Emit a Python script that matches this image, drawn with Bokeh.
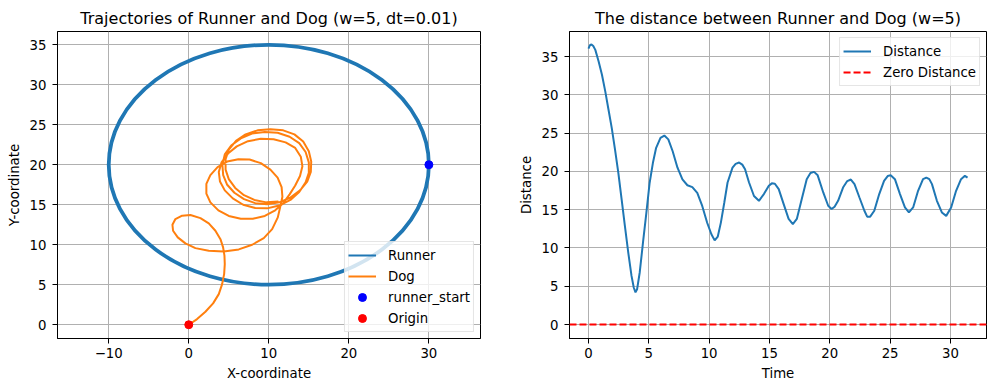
from bokeh.plotting import figure
from bokeh.layouts import row
from bokeh.models import Range1d, FixedTicker, Span, Legend, LegendItem, ColumnDataSource
from bokeh.embed import file_html
from bokeh.resources import INLINE

# ---- data ----
runner_center_x = [10]
runner_center_y = [20]
runner_width = [40]
runner_height = [30]
runner_start_x = [30]
runner_start_y = [20]
origin_x = [0]
origin_y = [0]

dog_x = [0, 1.04, 2.08, 3.04, 3.75, 4.17, 4.42, 4.5, 4.46, 4.29, 3.96, 3.33, 2.5, 1.46, 0.21,
         -0.83, -1.67, -2.04, -1.96, -1.375, -0.42, 0.83, 2.5, 4.375, 6.25, 7.92, 9.375, 10.42,
         11.125, 11.46,
         11.7, 11.6, 11.1, 10.2, 9.0, 7.6, 6.2, 4.8, 3.6, 2.7, 2.2, 2.2, 2.7, 3.7, 5.0, 6.5, 8.0,
         9.5, 10.8, 11.8, 12.6,
         13.3, 13.9, 14.2, 14.0, 13.3, 12.1, 10.6, 9.0, 7.4, 6.0, 4.9, 4.1, 3.75, 3.9, 4.5, 5.5,
         6.8, 8.3, 9.8, 11.3, 12.7, 13.8,
         14.6, 15.0, 15.0, 14.6, 13.8, 12.6, 11.1, 9.5, 7.9, 6.5, 5.3, 4.5, 4.2, 4.3, 4.8, 5.7,
         6.9, 8.3, 9.8, 11.3, 12.7, 13.9,
         14.8, 15.25, 15.3, 15.0, 14.3, 13.2, 11.8, 10.2, 8.6, 7.1, 5.9, 5.0, 4.6, 4.6, 5.0, 5.8,
         6.9, 8.2, 9.7, 11.2]
dog_y = [0, 0.71, 1.63, 2.67, 3.83, 5.08, 6.33, 7.58, 8.63, 9.67, 10.7, 11.75, 12.67, 13.33, 13.71,
         13.63, 13.21, 12.5, 11.75, 10.92, 10.17, 9.58, 9.25, 9.17, 9.42, 10.0, 10.83, 11.96,
         13.42, 14.875,
         16.0, 17.2, 18.4, 19.4, 20.2, 20.65, 20.7, 20.4, 19.7, 18.7, 17.6, 16.4, 15.3, 14.3, 13.6,
         13.25, 13.25, 13.6, 14.3, 15.2, 16.3,
         17.4, 18.6, 19.8, 21.0, 22.1, 22.8, 23.2, 23.25, 22.95, 22.3, 21.4, 20.3, 19.1, 17.9, 16.8,
         15.8, 15.0, 14.6, 14.55, 14.9, 15.6, 16.6,
         17.8, 19.0, 20.3, 21.6, 22.7, 23.5, 24.0, 24.1, 23.9, 23.3, 22.4, 21.3, 20.0, 18.7, 17.5,
         16.5, 15.7, 15.2, 15.05, 15.3, 15.9, 16.8,
         17.9, 19.1, 20.4, 21.7, 22.9, 23.8, 24.3, 24.45, 24.3, 23.8, 23.0, 21.9, 20.7, 19.4, 18.2,
         17.1, 16.2, 15.6, 15.3, 15.4]

time = [0, 0.12, 0.25, 0.4, 0.57, 0.84, 1.12, 1.39, 1.66, 1.93, 2.2, 2.48, 2.75, 3.02, 3.3, 3.57,
        3.76, 3.9, 4.03, 4.25, 4.52, 4.8, 5.07, 5.34, 5.61, 5.97, 6.29, 6.62, 6.98, 7.38, 7.79,
        8.2, 8.61, 9.02, 9.43, 9.84, 10.19, 10.46, 10.72, 10.98, 11.26, 11.53, 11.94, 12.2, 12.49,
        12.75, 12.98, 13.31, 13.72, 14.13, 14.54, 14.95, 15.2, 15.45, 15.77, 16.18, 16.59, 16.94,
        17.27, 17.68, 18.09, 18.4, 18.7, 19.0, 19.46, 19.87, 20.15, 20.4, 20.69, 21.1, 21.45,
        21.75, 22.05, 22.46, 22.87, 23.1, 23.35, 23.69, 24.1, 24.5, 24.8, 25.05, 25.4, 25.82,
        26.23, 26.56, 26.91, 27.32, 27.73, 28.0, 28.25, 28.47, 28.88, 29.29, 29.65, 30.06,
        30.47, 30.88, 31.2, 31.42]
distance = [36.06, 36.5, 36.6, 36.4, 35.9, 34.4, 32.65, 30.5, 28.1, 25.7, 22.9, 19.8, 16.35, 12.9,
            9.4, 6.35, 4.8, 4.2, 4.6, 6.8, 10.7, 14.6, 18.5, 21.1, 23.1, 24.4, 24.7, 24.2, 22.65,
            20.5, 18.96, 18.2, 17.96, 17.2, 15.5, 13.3, 11.8, 11.0, 11.5, 13.35, 15.95, 18.56,
            20.5, 21.0, 21.17, 20.9, 20.3, 18.56, 16.8, 16.17, 17.05, 18.13, 18.45, 18.4, 17.7,
            15.74, 13.8, 13.13, 13.8, 16.4, 19.0, 19.8, 19.95, 19.5, 17.26, 15.52, 15.1, 15.4,
            16.17, 17.9, 18.75, 18.95, 18.35, 16.6, 14.87, 14.1, 14.1, 14.87, 17.05, 18.78, 19.4,
            19.5, 19.0, 17.05, 15.3, 14.65, 15.3, 17.48, 19.0, 19.2, 19.0, 18.35, 16.17, 14.65,
            14.2, 15.3, 17.48, 19.0, 19.43, 19.2]
zero_level = 0

left_xticks = [-10, 0, 10, 20, 30]
left_yticks = [0, 5, 10, 15, 20, 25, 30, 35]
right_xticks = [0, 5, 10, 15, 20, 25, 30]
right_yticks = [0, 5, 10, 15, 20, 25, 30, 35]

BLUE = "#1f77b4"
ORANGE = "#ff7f0e"
FONT = "DejaVu Sans"


def style(p, xticks, yticks):
    p.background_fill_color = "white"
    p.border_fill_color = "white"
    p.outline_line_color = "black"
    p.outline_line_width = 1
    p.outline_line_alpha = 1
    p.title.text_font = FONT
    p.title.text_font_size = "16px"
    p.title.text_font_style = "normal"
    p.title.text_color = "black"
    p.title.align = "center"
    p.title.standoff = 7
    p.xaxis.ticker = FixedTicker(ticks=xticks)
    p.yaxis.ticker = FixedTicker(ticks=yticks)
    for ax in p.xaxis + p.yaxis:
        ax.axis_label_text_font = FONT
        ax.axis_label_text_font_size = "13.3px"
        ax.axis_label_text_font_style = "normal"
        ax.axis_label_text_color = "black"
        ax.major_label_text_font = FONT
        ax.major_label_text_font_size = "13.3px"
        ax.major_label_text_color = "black"
        ax.major_tick_out = 5
        ax.major_tick_in = 0
        ax.minor_tick_out = 0
        ax.minor_tick_in = 0
        ax.axis_line_color = "black"
        ax.major_tick_line_color = "black"
        ax.major_label_standoff = 6
        ax.axis_label_standoff = 5
    for ax in p.xaxis:
        ax.major_label_standoff = 4
    for g in p.xgrid + p.ygrid:
        g.grid_line_color = "#b0b0b0"
        g.grid_line_width = 1


def make_legend(items, loc):
    lg = Legend(items=items, location=loc)
    lg.label_text_font = FONT
    lg.label_text_font_size = "13.3px"
    lg.label_text_color = "black"
    lg.glyph_width = 28
    lg.glyph_height = 20
    lg.label_height = 20
    lg.label_standoff = 12
    lg.spacing = 1
    lg.padding = 3
    lg.margin = 6
    lg.border_line_color = "#cccccc"
    lg.border_line_width = 1
    lg.background_fill_color = "white"
    lg.background_fill_alpha = 0.8
    return lg


# ---- left panel ----
p1 = figure(width=515, height=388, output_backend="svg", toolbar_location=None,
            title="Trajectories of Runner and Dog (w=5, dt=0.01)",
            x_range=Range1d(-16.4, 36.45), y_range=Range1d(-1.72, 36.66),
            min_border_left=57, min_border_right=35, min_border_top=31, min_border_bottom=50)
style(p1, left_xticks, left_yticks)
p1.xaxis.axis_label = "X-coordinate"
p1.yaxis.axis_label = "Y-coordinate"
p1.xaxis.major_label_overrides = {-10: "\u221210"}

runner_src = ColumnDataSource(dict(x=runner_center_x, y=runner_center_y,
                                   w=runner_width, h=runner_height))
p1.ellipse(x="x", y="y", width="w", height="h", source=runner_src,
           fill_alpha=0, line_color=BLUE, line_width=3.8)
runner_key = p1.line(x=runner_start_x, y=runner_start_y, line_color=BLUE, line_width=2)
dog_r = p1.line(x=dog_x, y=dog_y, line_color=ORANGE, line_width=2)
start_r = p1.scatter(x=runner_start_x, y=runner_start_y, size=8, color="blue")
origin_r = p1.scatter(x=origin_x, y=origin_y, size=8, color="red")

p1.add_layout(make_legend([
    LegendItem(label="Runner", renderers=[runner_key]),
    LegendItem(label="Dog", renderers=[dog_r]),
    LegendItem(label="runner_start", renderers=[start_r]),
    LegendItem(label="Origin", renderers=[origin_r]),
], "bottom_right"))

# ---- right panel ----
p2 = figure(width=481, height=388, output_backend="svg", toolbar_location=None,
            title="The distance between Runner and Dog (w=5)",
            x_range=Range1d(-1.57, 32.99), y_range=Range1d(-1.83, 38.3),
            min_border_left=49, min_border_right=10, min_border_top=31, min_border_bottom=50)
style(p2, right_xticks, right_yticks)
p2.xaxis.axis_label = "Time"
p2.yaxis.axis_label = "Distance"

dist_r = p2.line(x=time, y=distance, line_color=BLUE, line_width=2)
p2.add_layout(Span(location=zero_level, dimension="width", line_color="red",
                   line_width=2, line_dash="7 3"))
zero_key = p2.line(x=time[:1], y=[zero_level], line_color="red", line_width=2, line_dash="7 3")
p2.add_layout(make_legend([
    LegendItem(label="Distance", renderers=[dist_r]),
    LegendItem(label="Zero Distance", renderers=[zero_key]),
], "top_right"))

layout = row(p1, p2)
open("out.html", "w").write(file_html(layout, INLINE))
